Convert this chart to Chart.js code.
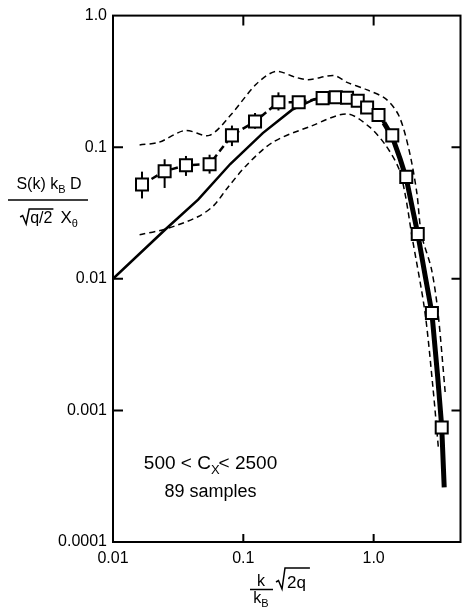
<!DOCTYPE html>
<html>
<head>
<meta charset="utf-8">
<script src="https://cdn.jsdelivr.net/npm/chart.js@4.4.0/dist/chart.umd.min.js"></script>
<style>
  html, body { margin: 0; padding: 0; background: #fff; }
  #wrap { width: 471px; height: 610px; position: relative; }
</style>
</head>
<body>
<div id="wrap"><canvas id="grafico"></canvas></div>
<script>
// medidos (quadrados) - 89 amostras
const kMedido = [0.0167, 0.0249, 0.0363, 0.0551, 0.0818, 0.123, 0.186, 0.266, 0.406, 0.512, 0.625, 0.755, 0.891, 1.09, 1.39, 1.78, 2.18, 2.80, 3.33];
const sMedido = [0.052, 0.0657, 0.073, 0.0743, 0.123, 0.157, 0.220, 0.220, 0.236, 0.240, 0.238, 0.225, 0.200, 0.176, 0.123, 0.0595, 0.0219, 0.0055, 0.00074];
const erroAlto = [0.0652, 0.081, 0.0858, 0.0877, 0.146, 0.182, 0.261, 0.233, 0.252, 0.256, 0.254, 0.240, 0.213, 0.187, 0.130, null, null, null, null];
const erroBaixo = [0.0408, 0.049, 0.0605, 0.063, 0.102, 0.138, 0.190, 0.198, 0.221, 0.225, 0.223, 0.211, 0.188, 0.166, 0.116, null, null, null, null];

// curva teorica (linha cheia)
const kTeoria = [0.01, 0.0253, 0.045, 0.0794, 0.141, 0.236, 0.352, 0.5, 0.65, 0.8, 1.0, 1.2, 1.39, 1.6, 1.78, 2.0, 2.18, 2.5, 2.8, 3.1, 3.33, 3.48];
const sTeoria = [0.01, 0.0238, 0.040, 0.0745, 0.128, 0.192, 0.232, 0.245, 0.240, 0.222, 0.190, 0.153, 0.120, 0.081, 0.058, 0.033, 0.022, 0.0102, 0.0055, 0.0018, 0.00075, 0.00026];

// envelope superior / inferior (tracejado fino)
const kSuperior = [0.016, 0.0225, 0.0357, 0.0548, 0.0794, 0.126, 0.177, 0.251, 0.314, 0.497, 0.625, 0.881, 1.24, 1.56, 1.86, 2.14, 2.33, 2.77, 3.11, 3.55];
const sSuperior = [0.104, 0.109, 0.134, 0.123, 0.174, 0.302, 0.377, 0.340, 0.326, 0.350, 0.311, 0.274, 0.233, 0.174, 0.0974, 0.0458, 0.0216, 0.012, 0.00567, 0.00133];
const kInferior = [0.016, 0.0253, 0.0448, 0.0597, 0.075, 0.106, 0.168, 0.333, 0.625, 0.933, 1.24, 1.56, 1.75, 1.96, 2.47, 2.85, 3.15];
const sInferior = [0.0216, 0.0239, 0.0296, 0.0363, 0.0486, 0.073, 0.109, 0.145, 0.179, 0.142, 0.103, 0.0688, 0.0433, 0.0216, 0.00567, 0.0015, 0.0005];

// eixos
const xTicks = [0.01, 0.1, 1.0];
const xTickLabels = ['0.01', '0.1', '1.0'];
const yTicks = [0.0001, 0.001, 0.01, 0.1, 1.0];
const yTickLabels = ['0.0001', '0.001', '0.01', '0.1', '1.0'];

const fonte = "'Liberation Sans', Arial, sans-serif";

function pares(xs, ys) {
    return xs.map((x, i) => ({ x: x, y: ys[i] }));
}

// escreve varios pedacos de texto (com subscrito) em sequencia
function escreve(ctx, partes, x, y, align) {
    let total = 0;
    partes.forEach(p => {
        ctx.font = p.size + 'px ' + fonte;
        p.w = ctx.measureText(p.t).width + (p.gap || 0);
        total += p.w;
    });
    let cx = align === 'center' ? x - total / 2 : x;
    ctx.textAlign = 'left';
    ctx.textBaseline = 'alphabetic';
    partes.forEach(p => {
        ctx.font = p.size + 'px ' + fonte;
        p.x = cx;
        ctx.fillText(p.t, cx, y + (p.dy || 0));
        cx += p.w;
    });
    return partes;
}

function raiz(ctx, x0, w, base, alto) {
    ctx.beginPath();
    ctx.moveTo(x0 - 10, base - 6);
    ctx.lineTo(x0 - 7.5, base - 7.5);
    ctx.lineTo(x0 - 4, base + 1);
    ctx.lineTo(x0 - 1, base - alto);
    ctx.lineTo(x0 + w + 1, base - alto);
    ctx.stroke();
}

// barras de erro (antes dos quadrados)
const barrasErro = {
    id: 'barrasErro',
    beforeDatasetsDraw(chart) {
        const ctx = chart.ctx, sx = chart.scales.x, sy = chart.scales.y;
        ctx.save();
        ctx.strokeStyle = '#000';
        ctx.lineWidth = 2;
        kMedido.forEach((k, i) => {
            if (erroAlto[i] == null) return;
            const px = sx.getPixelForValue(k);
            ctx.beginPath();
            ctx.moveTo(px, sy.getPixelForValue(erroAlto[i]));
            ctx.lineTo(px, sy.getPixelForValue(erroBaixo[i]));
            ctx.stroke();
        });
        ctx.restore();
    }
};

// moldura, marcas internas e textos
const moldura = {
    id: 'moldura',
    afterDraw(chart) {
        const ctx = chart.ctx, a = chart.chartArea, sx = chart.scales.x, sy = chart.scales.y;
        ctx.save();
        ctx.strokeStyle = '#000';
        ctx.fillStyle = '#000';
        ctx.lineWidth = 2;
        ctx.strokeRect(a.left, a.top, a.right - a.left, a.bottom - a.top);

        xTicks.slice(1).forEach(v => {
            const px = sx.getPixelForValue(v);
            ctx.beginPath();
            ctx.moveTo(px, a.bottom); ctx.lineTo(px, a.bottom - 8);
            ctx.moveTo(px, a.top); ctx.lineTo(px, a.top + 10);
            ctx.stroke();
        });
        yTicks.slice(1, -1).forEach(v => {
            const py = sy.getPixelForValue(v);
            ctx.beginPath();
            ctx.moveTo(a.left, py); ctx.lineTo(a.left + 10, py);
            ctx.moveTo(a.right, py); ctx.lineTo(a.right - 9, py);
            ctx.stroke();
        });

        // legenda dentro do grafico
        const ax = sx.getPixelForValue(0.056);
        escreve(ctx, [
            { t: '500 < C', size: 19 },
            { t: 'X', size: 13, dy: 5, gap: -1 },
            { t: '< 2500', size: 19 }
        ], ax, sy.getPixelForValue(0.00036), 'center');
        escreve(ctx, [{ t: '89 samples', size: 18 }], ax, sy.getPixelForValue(0.00022), 'center');

        // titulo eixo y (fracao)
        ctx.lineWidth = 1.5;
        escreve(ctx, [
            { t: 'S(k) k', size: 16 },
            { t: 'B', size: 11, dy: 4 },
            { t: ' D', size: 16 }
        ], 49, 189, 'center');
        ctx.beginPath(); ctx.moveTo(8, 200); ctx.lineTo(88, 200); ctx.stroke();
        const den = escreve(ctx, [
            { t: 'q/2', size: 16, gap: 8 },
            { t: 'X', size: 17 },
            { t: 'θ', size: 11, dy: 4 }
        ], 54, 223, 'center');
        ctx.font = '16px ' + fonte;
        raiz(ctx, den[0].x, ctx.measureText('q/2').width, 223, 14);

        // titulo eixo x
        ctx.lineWidth = 1.5;
        escreve(ctx, [{ t: 'k', size: 16 }], 261, 586, 'center');
        ctx.beginPath(); ctx.moveTo(250, 589.5); ctx.lineTo(273, 589.5); ctx.stroke();
        escreve(ctx, [{ t: 'k', size: 16 }, { t: 'B', size: 11, dy: 4 }], 261, 603, 'center');
        const rq = escreve(ctx, [{ t: '2q', size: 17 }], 287, 588, 'left');
        raiz(ctx, 286, rq[0].w + 4, 588, 20);

        ctx.restore();
    }
};

const ctx = document.getElementById('grafico').getContext('2d');

new Chart(ctx, {
    type: 'scatter',
    data: {
        datasets: [
            {
                label: 'medido',
                data: pares(kMedido, sMedido),
                showLine: true,
                borderColor: '#000',
                borderWidth: 2.5,
                borderDash: [7, 4],
                pointStyle: 'rect',
                pointRadius: 8.5,
                pointBorderWidth: 2,
                pointBackgroundColor: '#fff',
                pointBorderColor: '#000'
            },
            {
                label: 'teoria',
                data: pares(kTeoria, sTeoria),
                showLine: true,
                borderColor: '#000',
                borderWidth: 2.5,
                pointRadius: 0,
                segment: {
                    borderWidth: c => c.p0.parsed.x >= 1.2 ? 5 : 2.5   // parte que desce fica grossa
                }
            },
            {
                label: 'superior',
                data: pares(kSuperior, sSuperior),
                showLine: true,
                borderColor: '#000',
                borderWidth: 1.5,
                borderDash: [6, 4],
                pointRadius: 0,
                tension: 0.3
            },
            {
                label: 'inferior',
                data: pares(kInferior, sInferior),
                showLine: true,
                borderColor: '#000',
                borderWidth: 1.5,
                borderDash: [6, 4],
                pointRadius: 0,
                tension: 0.3
            }
        ]
    },
    plugins: [barrasErro, moldura],
    options: {
        responsive: true,
        maintainAspectRatio: false,
        animation: false,
        layout: { padding: { top: 13, right: 1, left: 0, bottom: 0 } },
        plugins: {
            legend: { display: false },
            tooltip: { enabled: false }
        },
        scales: {
            x: {
                type: 'logarithmic',
                min: 0.01,
                max: 4.64,
                grid: { display: false, drawTicks: false },
                border: { display: false },
                afterBuildTicks: s => { s.ticks = xTicks.map(v => ({ value: v })); },
                afterFit: s => { s.height = 68; },
                ticks: {
                    autoSkip: false,
                    maxRotation: 0,
                    padding: 7,
                    color: '#000',
                    font: { family: fonte, size: 16 },
                    callback: (v, i) => xTickLabels[i]
                }
            },
            y: {
                type: 'logarithmic',
                min: 0.0001,
                max: 1,
                grid: { display: false, drawTicks: false },
                border: { display: false },
                afterBuildTicks: s => { s.ticks = yTicks.map(v => ({ value: v })); },
                afterFit: s => { s.width = 113; },
                ticks: {
                    autoSkip: false,
                    padding: 6,
                    color: '#000',
                    font: { family: fonte, size: 16 },
                    callback: (v, i) => yTickLabels[i]
                }
            }
        }
    }
});
</script>
</body>
</html>
